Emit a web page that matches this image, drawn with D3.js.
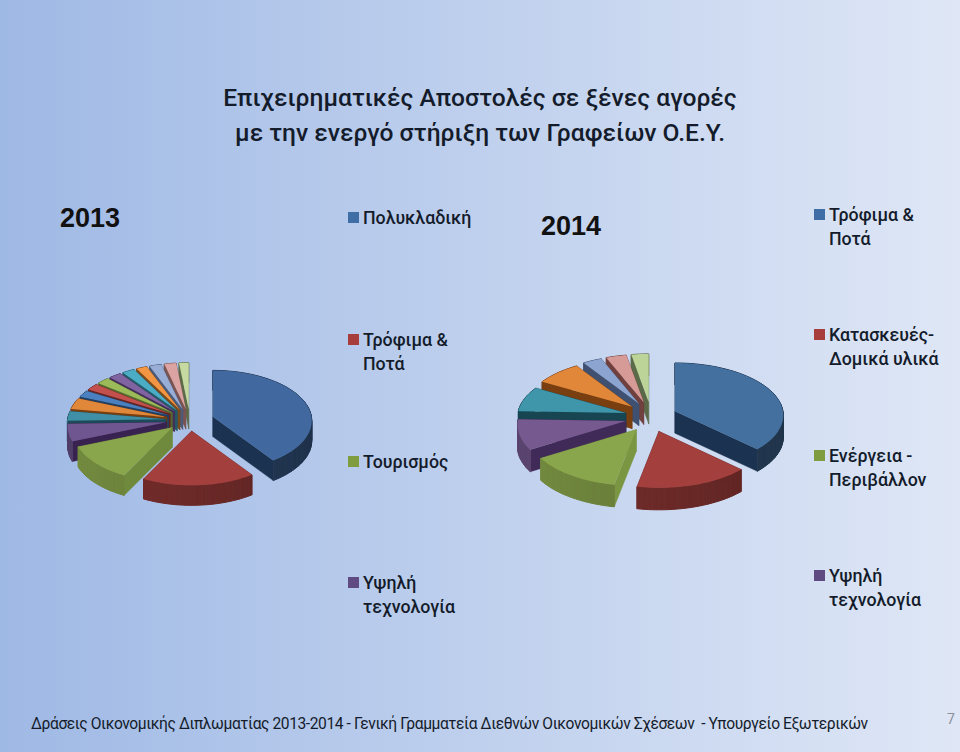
<!DOCTYPE html>
<html><head><meta charset="utf-8">
<script src="https://cdn.jsdelivr.net/npm/d3@7"></script>
<style>html,body{margin:0;padding:0}svg{display:block}</style></head>
<body><svg id="c" width="960" height="752"></svg>
<script>
const titleLines = ["Επιχειρηματικές Αποστολές σε ξένες αγορές","με την ενεργό στήριξη των Γραφείων Ο.Ε.Υ."];
const footer = "Δράσεις Οικονομικής Διπλωματίας 2013-2014 - Γενική Γραμματεία Διεθνών Οικονομικών Σχέσεων  - Υπουργείο Εξωτερικών";
const pageNumber = "7";
const years = ["2013","2014"];
const legend2013 = [["Πολυκλαδική"],["Τρόφιμα &","Ποτά"],["Τουρισμός"],["Υψηλή","τεχνολογία"]];
const legend2014 = [["Τρόφιμα &","Ποτά"],["Κατασκευές-","Δομικά υλικά"],["Ενέργεια -","Περιβάλλον"],["Υψηλή","τεχνολογία"]];
const values2013 = [40.3,17.2,11.4,5.6,3.1,3.6,2.2,2.2,2.2,2.2,2.2,1.9,2.1,2.1,1.7];
const values2014 = [37.2,15.8,13.1,9.4,7.8,7.5,3.1,3.3,2.8];
const topColors2013 = ["#42699f","#a33f3c","#8aa64c","#6f5690","#3f8fa6","#e0873a","#4a80bf","#c4504d","#9bbb59","#8064a2","#4bacc6","#f39643","#98aed6","#dba3a1","#c5d9a0"];
const topColors2014 = ["#44709f","#a33f3c","#8aa64c","#75598f","#3f95aa","#e0873a","#8ba5d0","#d69a97","#bcd498"];
const wallColors2013 = ["#1b3350","#6b2422","#6f8a3c","#38224f","#1c4a58","#7a3f10","#203f63","#682523","#56692f","#432f5a","#245a68","#7a4a1c","#4d5a78","#7a5452","#5c6a48"];
const wallColors2014 = ["#1b3350","#5f1e1c","#7a9642","#3f2a58","#174652","#7a3f10","#3f5070","#70403e","#5a6a48"];

const svg = d3.select("#c");
const defs = svg.append("defs");
const bg = defs.append("linearGradient").attr("id","bg").attr("x1",0).attr("x2",1).attr("y1",0).attr("y2",0);
bg.append("stop").attr("offset",0).attr("stop-color","#9fb9e5");
bg.append("stop").attr("offset",1).attr("stop-color","#dfe7f6");
svg.append("rect").attr("width",960).attr("height",752).attr("fill","url(#bg)");

const sans = "Roboto, 'Open Sans', sans-serif";
const ink = "#141c2b";
svg.append("g").selectAll("text").data(titleLines).join("text")
  .attr("x",480).attr("y",(d,i)=>106+i*34.5).attr("text-anchor","middle")
  .attr("font-family",sans).attr("font-size",24.6).attr("font-weight",500).attr("fill",ink).text(d=>d);
svg.append("text").attr("x",90).attr("y",227).attr("text-anchor","middle").attr("font-family","'Liberation Sans'").attr("font-weight",700).attr("font-size",27).attr("fill","#111").text(years[0]);
svg.append("text").attr("x",571).attr("y",235).attr("text-anchor","middle").attr("font-family","'Liberation Sans'").attr("font-weight",700).attr("font-size",27).attr("fill","#111").text(years[1]);
svg.append("text").attr("x",31).attr("y",729).attr("font-family",sans).attr("font-size",15.6).attr("letter-spacing",-0.42).attr("fill",ink).attr("xml:space","preserve").text(footer);
svg.append("text").attr("x",951).attr("y",724).attr("text-anchor","middle").attr("font-family",sans).attr("font-size",14).attr("fill","#8a8f99").text(pageNumber);

function drawLegend(items, x, ys, colors){
  const g = svg.append("g");
  items.forEach((lines,i)=>{
    g.append("rect").attr("x",x).attr("y",ys[i]).attr("width",11).attr("height",11).attr("fill",colors[i]);
    lines.forEach((t,j)=>g.append("text").attr("x",x+15).attr("y",ys[i]+12+j*24).attr("font-family",sans).attr("font-size",17.8).attr("font-weight",500).attr("fill",ink).text(t));
  });
}
drawLegend(legend2013,348,[212,334,456,577],["#3f6ea6","#a83e3b","#7f9c3f","#5f4a82"]);
drawLegend(legend2014,814,[209,329,450,570],["#3f6ea6","#a83e3b","#7f9c3f","#5f4a82"]);

function drawPie(values, tops, walls, o){
  const arcs = d3.pie().sort(null).startAngle(0).endAngle(2*Math.PI)(values);
  const proj = (u,v,mid,z=0)=>{
    const ox = Math.sin(mid)*o.ex, oy = -Math.cos(mid)*o.ey;
    const f = 1/(1-o.persp*v);
    return [o.cx+ox+o.rx*u*f, o.cy+oy+o.ry*v*f+z];
  };
  const g = svg.append("g");
  const line = d3.line();
  const order = arcs.slice().sort((a,b)=>{
    const m=x=>(x.startAngle+x.endAngle)/2; return -Math.cos(m(a))+Math.cos(m(b));
  });
  order.forEach(a=>{
    const i=a.index, mid=(a.startAngle+a.endAngle)/2;
    const apex=proj(0,0,mid), apexB=proj(0,0,mid,o.d);
    const n=Math.max(3,Math.ceil((a.endAngle-a.startAngle)/0.03));
    const ang=d3.range(n+1).map(k=>a.startAngle+(a.endAngle-a.startAngle)*k/n);
    const rim=ang.map(t=>proj(Math.sin(t),-Math.cos(t),mid));
    const rimB=ang.map(t=>proj(Math.sin(t),-Math.cos(t),mid,o.d));
    const back=[],front=[];
    for(let k=0;k<n;k++){
      const t=(ang[k]+ang[k+1])/2;
      (Math.cos(t)<0?front:back).push(k);
    }
    const seg=k=>line([rim[k],rim[k+1],rimB[k+1],rimB[k]])+"Z";
    const wall=d3.color(walls[i]);
    back.forEach(k=>g.append("path").attr("d",seg(k)).attr("fill",wall).attr("stroke",wall).attr("stroke-width",1));
    const radial=[[rim[0],rimB[0]],[rim[n],rimB[n]]].map(p=>({p,v:p[0][1]}));
    radial.sort((x,y)=>x.v-y.v).forEach(r=>{
      g.append("path").attr("d",line([apex,r.p[0],r.p[1],apexB])+"Z").attr("fill",wall).attr("stroke",wall).attr("stroke-width",.4);
    });
    front.forEach(k=>{
      const t=(ang[k]+ang[k+1])/2;
      const base=o.outerDark[i]||0.9;
      const shade=d3.interpolateRgb(d3.color(tops[i]).darker(base), d3.color(tops[i]).darker(base+0.6))((Math.sin(t)+1)/2);
      g.append("path").attr("d",seg(k)).attr("fill",shade).attr("stroke",shade).attr("stroke-width",1);
    });
    g.append("path").attr("d",line([apex,...rim])+"Z").attr("fill",tops[i]);
  });
}
drawPie(values2013,topColors2013,wallColors2013,{cx:190,cy:420,rx:98.5,ry:50,ex:24,ey:11,d:20,persp:.08,outerDark:[1.5,.9,.5,.9]});
drawPie(values2014,topColors2014,wallColors2014,{cx:651,cy:417,rx:108,ry:52,ex:26,ey:15,d:22,persp:.08,outerDark:[1.5,.9,.5,.7]});
</script></body></html>
